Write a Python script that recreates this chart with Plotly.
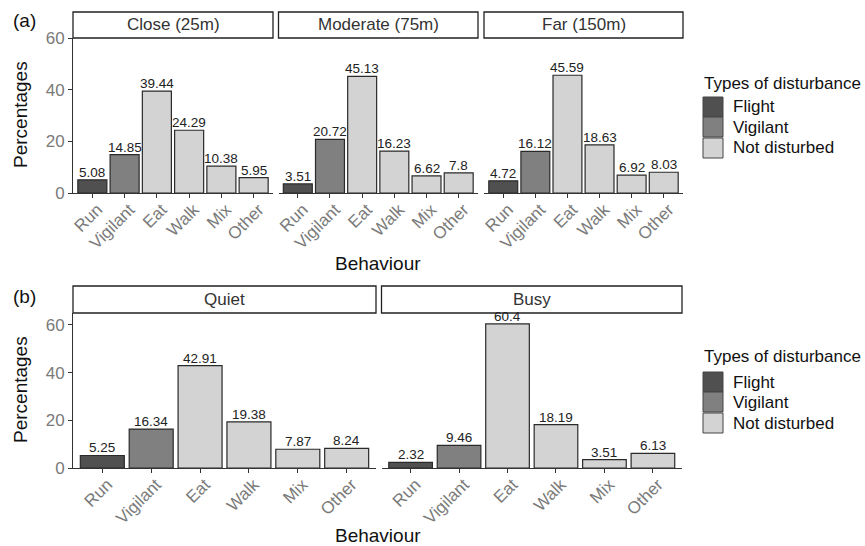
import plotly.graph_objects as go

W, H = 865, 546

behaviours = ["Run", "Vigilant", "Eat", "Walk", "Mix", "Other"]
disturbance = ["Flight", "Vigilant", "Not disturbed", "Not disturbed", "Not disturbed", "Not disturbed"]
dist_types = ["Flight", "Vigilant", "Not disturbed"]
dist_colors = {"Flight": "#505050", "Vigilant": "#808080", "Not disturbed": "#d3d3d3"}

close_25 = [5.08, 14.85, 39.44, 24.29, 10.38, 5.95]
moderate_75 = [3.51, 20.72, 45.13, 16.23, 6.62, 7.8]
far_150 = [4.72, 16.12, 45.59, 18.63, 6.92, 8.03]
quiet = [5.25, 16.34, 42.91, 19.38, 7.87, 8.24]
busy = [2.32, 9.46, 60.4, 18.19, 3.51, 6.13]

panel_a_titles = ["Close (25m)", "Moderate (75m)", "Far (150m)"]
panel_b_titles = ["Quiet", "Busy"]


def px(x):
    return x / W


def py(y):
    return 1 - y / H


FONT = "Liberation Sans, Arial, sans-serif"
TICK_COLOR = "#7a7a7a"
LINE_COLOR = "#333333"

panels = [
    (close_25, 73, 273, 38, 193, 60, panel_a_titles[0], True),
    (moderate_75, 278.5, 478, 38, 193, 60, panel_a_titles[1], False),
    (far_150, 484, 683, 38, 193, 60, panel_a_titles[2], False),
    (quiet, 73, 376, 313, 468, 65, panel_b_titles[0], True),
    (busy, 381.5, 682, 313, 468, 65, panel_b_titles[1], False),
]
strip_tops = {38: 12, 313: 286}

fig = go.Figure()
shapes = []
annotations = []

for i, (vals, x0, x1, yt, yb, ymax, title, left) in enumerate(panels):
    n = i + 1
    xa = "x" if n == 1 else f"x{n}"
    ya = "y" if n == 1 else f"y{n}"
    colors = [dist_colors[d] for d in disturbance]
    fig.add_trace(go.Bar(
        x=behaviours, y=vals, xaxis=xa, yaxis=ya,
        marker=dict(color=colors, line=dict(color="#2a2a2a", width=1.2)),
        width=0.9, showlegend=False, hoverinfo="x+y",
    ))
    for b, v in zip(behaviours, vals):
        annotations.append(dict(xref=xa, yref=ya, x=b, y=v, text=str(v),
                                showarrow=False, xanchor="center", yanchor="bottom",
                                yshift=-1, borderpad=0,
                                font=dict(family=FONT, size=13.5, color="#222222")))
    xkey = "xaxis" if n == 1 else f"xaxis{n}"
    ykey = "yaxis" if n == 1 else f"yaxis{n}"
    fig.layout[xkey] = dict(
        domain=[px(x0), px(x1)], anchor=ya, type="category",
        range=[-0.6, 5.6], showline=True, linecolor=LINE_COLOR, linewidth=1,
        ticks="outside", ticklen=4, tickcolor=LINE_COLOR, tickwidth=1,
        tickangle=-45, tickfont=dict(family=FONT, size=17, color=TICK_COLOR),
        ticklabelshift=5, ticklabelstandoff=-5,
        showgrid=False, zeroline=False, fixedrange=True, automargin=False,
    )
    fig.layout[ykey] = dict(
        domain=[py(yb), py(yt)], anchor=xa, range=[0, ymax],
        tickvals=[0, 20, 40, 60], showgrid=False, zeroline=False,
        showline=left, linecolor=LINE_COLOR, linewidth=1,
        ticks="outside" if left else "", ticklen=4, tickcolor=LINE_COLOR,
        showticklabels=left,
        tickfont=dict(family=FONT, size=17, color=TICK_COLOR),
        fixedrange=True, automargin=False,
    )
    st = strip_tops[yt]
    shapes.append(dict(type="rect", xref="paper", yref="paper",
                       x0=px(x0), x1=px(x1), y0=py(yt), y1=py(st),
                       line=dict(color="#222222", width=1.3), fillcolor="white"))
    annotations.append(dict(xref="paper", yref="paper", x=px((x0 + x1) / 2),
                            y=py((st + yt) / 2), text=title, showarrow=False,
                            xanchor="center", yanchor="middle",
                            font=dict(family=FONT, size=17, color="#333333")))

for yc, bc, tag, tagy in [(115, 263, "(a)", 21), (390, 535, "(b)", 296)]:
    annotations.append(dict(xref="paper", yref="paper", x=px(20), y=py(yc),
                            text="Percentages", textangle=-90, showarrow=False,
                            xanchor="center", yanchor="middle",
                            font=dict(family=FONT, size=19, color="#111111")))
    annotations.append(dict(xref="paper", yref="paper", x=px(378), y=py(bc),
                            text="Behaviour", showarrow=False,
                            xanchor="center", yanchor="middle",
                            font=dict(family=FONT, size=19, color="#111111")))
    annotations.append(dict(xref="paper", yref="paper", x=px(24), y=py(tagy),
                            text=tag, showarrow=False,
                            xanchor="center", yanchor="middle",
                            font=dict(family=FONT, size=19, color="#111111")))

for title_y, key_tops in [(83, [97, 117, 138]), (356, [372, 392, 413])]:
    annotations.append(dict(xref="paper", yref="paper", x=px(702), y=py(title_y),
                            text="Types of disturbance", showarrow=False,
                            xanchor="left", yanchor="middle",
                            font=dict(family=FONT, size=17, color="#111111")))
    for d, kt in zip(dist_types, key_tops):
        shapes.append(dict(type="rect", xref="paper", yref="paper",
                           x0=px(703), x1=px(723), y0=py(kt + 20), y1=py(kt),
                           line=dict(color="#444444", width=1),
                           fillcolor=dist_colors[d]))
        annotations.append(dict(xref="paper", yref="paper", x=px(731), y=py(kt + 10),
                                text=d, showarrow=False,
                                xanchor="left", yanchor="middle",
                                font=dict(family=FONT, size=17, color="#111111")))

fig.update_layout(
    width=W, height=H, margin=dict(l=0, r=0, t=0, b=0, autoexpand=False),
    paper_bgcolor="white", plot_bgcolor="white",
    shapes=shapes, annotations=annotations, showlegend=False,
    font=dict(family=FONT),
)

fig.write_html("out.html", config={"displayModeBar": False},
               post_script="document.body.style.margin='0';document.body.style.overflow='hidden';")
